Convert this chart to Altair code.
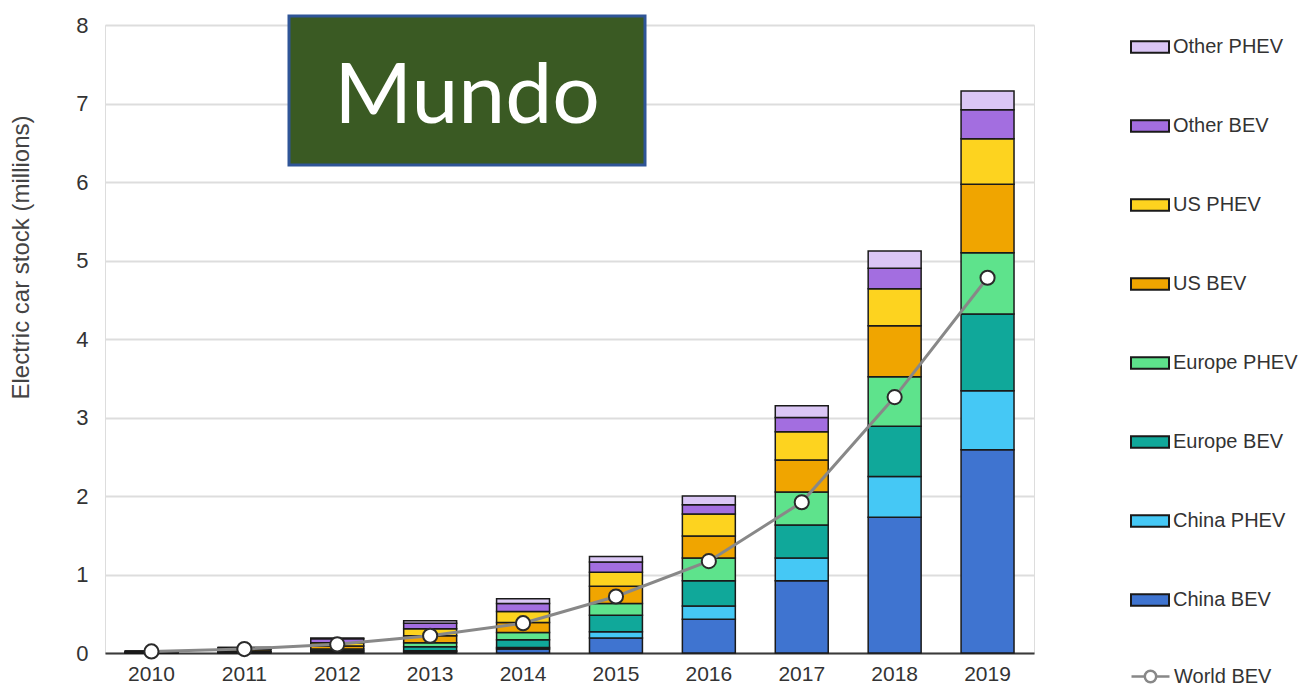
import altair as alt
import pandas as pd

years = ["2010", "2011", "2012", "2013", "2014", "2015", "2016", "2017", "2018", "2019"]
series_names = ["China BEV", "China PHEV", "Europe BEV", "Europe PHEV",
                "US BEV", "US PHEV", "Other BEV", "Other PHEV"]
china_bev   = [0.001, 0.005, 0.01, 0.02, 0.05, 0.19, 0.43, 0.92, 1.73, 2.59]
china_phev  = [0.000, 0.000, 0.00, 0.01, 0.02, 0.08, 0.17, 0.29, 0.52, 0.75]
europe_bev  = [0.005, 0.010, 0.02, 0.05, 0.10, 0.21, 0.32, 0.42, 0.64, 0.98]
europe_phev = [0.000, 0.005, 0.02, 0.05, 0.09, 0.15, 0.29, 0.42, 0.63, 0.78]
us_bev      = [0.003, 0.020, 0.04, 0.09, 0.13, 0.22, 0.28, 0.41, 0.65, 0.87]
us_phev     = [0.001, 0.010, 0.04, 0.09, 0.14, 0.18, 0.28, 0.36, 0.47, 0.58]
other_bev   = [0.015, 0.020, 0.05, 0.07, 0.10, 0.13, 0.12, 0.18, 0.26, 0.37]
other_phev  = [0.000, 0.000, 0.01, 0.03, 0.06, 0.07, 0.11, 0.15, 0.22, 0.24]
world_bev   = [0.02, 0.05, 0.11, 0.22, 0.38, 0.72, 1.17, 1.92, 3.26, 4.78]
series_colors = ["#3f74d0", "#45c8f5", "#10a89a", "#5ee38c",
                 "#f0a500", "#fdd31f", "#a36ee0", "#dac6f5"]
title_text = ["Mundo"]

series_values = [china_bev, china_phev, europe_bev, europe_phev,
                 us_bev, us_phev, other_bev, other_phev]
rows = []
for i, (name, vals) in enumerate(zip(series_names, series_values)):
    for y, v in zip(years, vals):
        rows.append({"year": y, "series": name, "value": v, "idx": i})
bars_df = pd.DataFrame(rows)
world_df = pd.DataFrame({"year": years, "value": world_bev, "series": "World BEV"})

FONT = "Liberation Sans"

x_enc = alt.X("year:O", title=None,
              scale=alt.Scale(paddingInner=0.43, paddingOuter=0.215),
              axis=alt.Axis(labelAngle=0, labelFontSize=21, labelColor="#333333",
                            labelFont=FONT, labelPadding=10, ticks=False,
                            domain=True, domainColor="#3a3a3a", domainWidth=2))

bars = alt.Chart(bars_df).mark_bar(stroke="#1a1a1a", strokeWidth=1.5).encode(
    x=x_enc,
    y=alt.Y("value:Q", stack="zero", title="Electric car stock (millions)",
            scale=alt.Scale(domain=[0, 8], nice=False),
            axis=alt.Axis(values=list(range(0, 9)), format="d", labelFontSize=22,
                          labelColor="#333333",
                          labelFont=FONT, labelPadding=17, ticks=False, domain=False,
                          grid=True, gridColor="#dddddd", gridWidth=2,
                          titleFont=FONT, titleFontSize=24, titleFontWeight="normal",
                          titleColor="#444444", titleX=-84, titleY=232,
                          titleAngle=270, titleBaseline="middle", titleAlign="center")),
    fill=alt.Fill("series:N",
                  scale=alt.Scale(domain=series_names[::-1], range=series_colors[::-1]),
                  legend=alt.Legend(title=None, orient="none", legendX=1025, legendY=2,
                                    padding=0,
                                    symbolType="M-1,-0.3H1V0.3H-1Z", symbolSize=1444,
                                    symbolStrokeColor="#1a1a1a", symbolStrokeWidth=2,
                                    labelFont=FONT, labelFontSize=20, labelColor="#333333",
                                    labelOffset=3, rowPadding=49, labelLimit=300)),
    order=alt.Order("idx:Q", sort="ascending"),
)

line = alt.Chart(world_df).mark_line(strokeWidth=3).encode(
    x=alt.X("year:O"),
    y=alt.Y("value:Q"),
    stroke=alt.Stroke("series:N",
                      scale=alt.Scale(domain=["World BEV"], range=["#888888"]),
                      legend=alt.Legend(title=None, orient="none", legendX=1025, legendY=631,
                                        padding=0,
                                        symbolType="M-1,0H-0.3M0.3,0H1M-0.3,0A0.3,0.3,0,1,1,0.3,0A0.3,0.3,0,1,1,-0.3,0Z",
                                        symbolSize=1444, symbolStrokeWidth=2.5,
                                        symbolStrokeColor="#444444", symbolFillColor="white",
                                        labelFont=FONT, labelFontSize=20, labelColor="#333333",
                                        labelOffset=3, labelLimit=300)),
)

points = alt.Chart(world_df).mark_point(filled=True, fill="white", stroke="#2a2a2a",
                                        strokeWidth=2, size=200, opacity=1).encode(
    x=alt.X("year:O"),
    y=alt.Y("value:Q"),
)

title_df = pd.DataFrame({"t": title_text})
box = alt.Chart(title_df).mark_rect(fill="#3a5a23", stroke="#2f5597", strokeWidth=3).encode(
    x=alt.value(184), x2=alt.value(540), y=alt.value(-9), y2=alt.value(140))
box_text = alt.Chart(title_df).mark_text(font="Lato", fontSize=84, color="white",
                                         align="center", baseline="alphabetic").encode(
    x=alt.value(362), y=alt.value(98), text="t:N")

chart = alt.layer(bars, line, points, box, box_text).properties(
    width=929, height=628,
    autosize=alt.AutoSizeParams(type="none"),
    padding={"left": 97, "top": 17, "right": 267, "bottom": 32},
).configure_view(stroke=None).configure(background="white")

chart.save("out.html", embed_options={"renderer": "svg", "actions": False})
